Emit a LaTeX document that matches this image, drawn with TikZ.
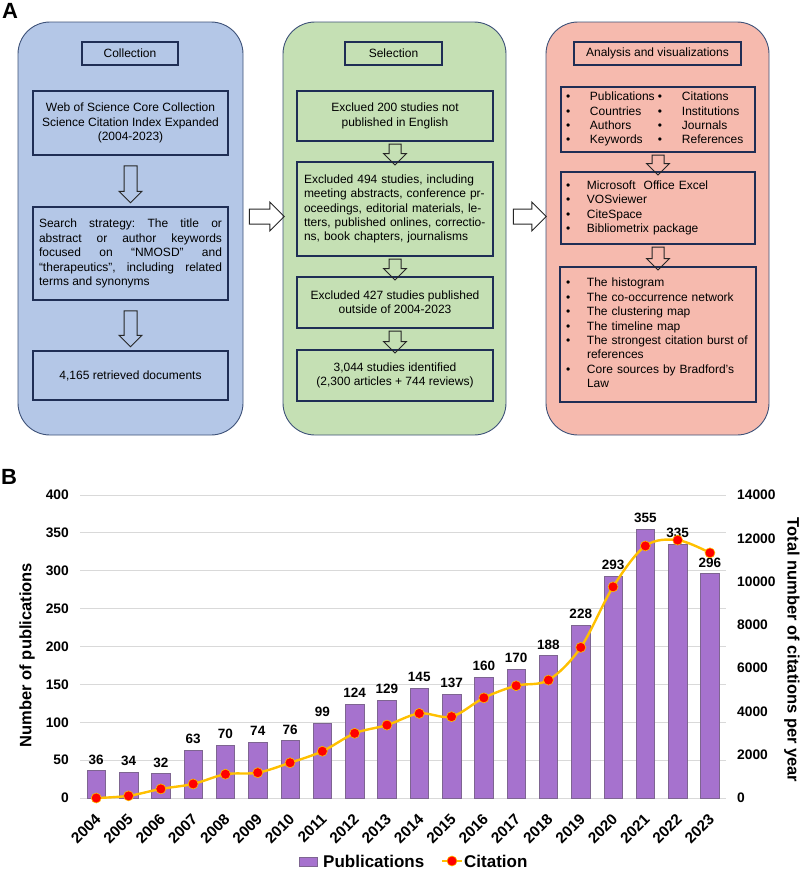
\documentclass[tikz,border=0pt]{standalone}
\usepackage{fontspec}
\setmainfont{Liberation Sans}
\usetikzlibrary{shapes.arrows,calc}
\definecolor{bluefill}{HTML}{B4C7E7}
\definecolor{greenfill}{HTML}{C5E0B4}
\definecolor{redfill}{HTML}{F6BAAE}
\definecolor{panelline}{HTML}{3D5178}
\definecolor{boxline}{HTML}{1F2E55}
\definecolor{barfill}{HTML}{A672CE}
\definecolor{barline}{HTML}{7E6591}
\definecolor{citeorange}{HTML}{FFC000}
\definecolor{gridgray}{HTML}{D9D9D9}
\frenchspacing
\newcommand{\boxfont}{\fontsize{12}{14.4}\selectfont}
\newcommand{\tickfont}{\bfseries\fontsize{13.8}{16}\selectfont}
\newcommand{\valfont}{\bfseries\fontsize{13.5}{16}\selectfont}
\newcommand{\yearfont}{\bfseries\fontsize{15.3}{17}\selectfont}
\newcommand{\titlefont}{\bfseries\fontsize{16.5}{18}\selectfont}
\newcommand{\legfont}{\bfseries\fontsize{17}{19}\selectfont}
\newcommand{\tagfont}{\bfseries\fontsize{22}{24}\selectfont}
\begin{document}
\begin{tikzpicture}[x=1pt, y=-1pt,
  panel/.style={draw=panelline, line width=0.9pt, rounded corners=32pt},
  box/.style={draw=boxline, line width=1.2pt, font=\boxfont, inner sep=0pt, minimum width=195pt},
  headbox/.style={draw=boxline, line width=1.2pt, font=\boxfont, inner sep=0pt, minimum height=23pt},
  harrow/.style={single arrow, draw=black!85, line width=1pt, inner xsep=0pt, inner ysep=6pt,
    single arrow head extend=5pt, single arrow tip angle=90},
  smallarrow/.style={harrow, inner ysep=5.5pt, single arrow head extend=5.5pt},
  gridline/.style={draw=gridgray, line width=0.8pt},
  tick/.style={font=\tickfont, inner sep=0pt},
  val/.style={font=\valfont, inner sep=0pt, anchor=south},
  year/.style={font=\yearfont, inner sep=1pt, anchor=north east, rotate=45},
  bar/.style={fill=barfill, draw=barline, line width=0.6pt},
  citeline/.style={draw=citeorange, line width=2.4pt},
  citedot/.style={fill=red, draw=citeorange, line width=0.6pt}]
\useasboundingbox (0,0) rectangle (800,870);

\node[font=\tagfont, inner sep=0pt] (tagA) at (10,11) {A};

\node[panel, fill=bluefill, minimum width=225pt, minimum height=413pt] (collect) at (130.5,228.5) {};
\node[panel, fill=greenfill, minimum width=223pt, minimum height=413pt] (select) at (394.5,228.5) {};
\node[panel, fill=redfill, minimum width=223pt, minimum height=413pt] (analyse) at (657.5,228.5) {};

\node[headbox, minimum width=96pt] (colhead) at (130,53.5) {Collection};
\node[box, minimum height=64pt, align=center] (web) at (130.5,123)
  {Web of Science Core Collection\\Science Citation Index Expanded\\(2004-2023)};
\node[box, minimum height=93pt, text width=183pt, align=justify] (search) at (130.5,253.5)
  {Search strategy: The title or\linebreak abstract or author keywords\linebreak focused on “NMOSD” and\linebreak “therapeutics”, including related\linebreak terms and synonyms};
\node[box, minimum height=49pt] (docs) at (130.5,375.5) {4,165 retrieved documents};
\node[harrow, rotate=-90, minimum height=37pt] (c1) at ($(web.south)!.5!(search.north)$) {};
\node[harrow, rotate=-90, minimum height=36pt] (c2) at ($(search.south)!.5!(docs.north)$) {};

\node[headbox, minimum width=97pt] (selhead) at (393.5,53.5) {Selection};
\node[box, minimum width=196pt, minimum height=50pt, align=center] (lang) at (395,116)
  {Exclued 200 studies not\\published in English};
\node[box, minimum width=196pt, minimum height=94pt, text width=182pt, align=left] (types) at (395,209)
  {Excluded 494 studies, including\\meeting abstracts, conference pr-\\oceedings, editorial materials, le-\\tters, published onlines, correctio-\\ns, book chapters, journalisms};
\node[box, minimum width=196pt, minimum height=51pt, align=center] (period) at (395,302.5)
  {Excluded 427 studies published\\outside of 2004-2023};
\node[box, minimum width=196pt, minimum height=51pt, align=center] (final) at (395,375.5)
  {3,044 studies identified\\(2,300 articles + 744 reviews)};
\node[smallarrow, rotate=-90, minimum height=21pt] (s1) at ($(lang.south)!.5!(types.north)$) {};
\node[smallarrow, rotate=-90, minimum height=21pt] (s2) at ($(types.south)!.5!(period.north)$) {};
\node[smallarrow, rotate=-90, minimum height=22pt] (s3) at ($(period.south)!.5!(final.north)$) {};

\node[headbox, minimum width=167pt] (anahead) at (657.5,53.5) {Analysis and visualizations};
\node[box, minimum width=194pt, minimum height=65pt, text width=184pt, align=left] (items) at (658,119.5)
  {\begin{tabular}{@{}p{24pt}@{}p{68pt}@{}p{24pt}@{}l@{}}
   • & Publications & • & Citations\\
   • & Countries & • & Institutions\\
   • & Authors & • & Journals\\
   • & Keywords & • & References
   \end{tabular}};
\node[box, minimum width=194pt, minimum height=72pt, text width=184pt, align=left] (tools) at (658,208)
  {\begin{tabular}{@{}p{21pt}@{}l@{}}
   • & Microsoft\ \ Office Excel\\
   • & VOSviewer\\
   • & CiteSpace\\
   • & Bibliometrix package
   \end{tabular}};
\node[box, minimum width=196pt, minimum height=135pt, text width=184pt, align=left] (outputs) at (658,334.5)
  {\begin{tabular}{@{}p{21pt}@{}l@{}}
   • & The histogram\\
   • & The co-occurrence network\\
   • & The clustering map\\
   • & The timeline map\\
   • & The strongest citation burst of\\
     & references\\
   • & Core sources by Bradford's\\
     & Law
   \end{tabular}};
\node[smallarrow, rotate=-90, minimum height=20pt] (r1) at ($(items.south)!.5!(tools.north)$) {};
\node[smallarrow, rotate=-90, minimum height=23pt] (r2) at ($(tools.south)!.5!(outputs.north)$) {};

\node[harrow, inner ysep=7pt, single arrow head extend=7pt, minimum height=35pt] (m1)
  at ($(collect.east)!.5!(select.west)+(0,-12)$) {};
\node[harrow, inner ysep=7pt, single arrow head extend=7pt, minimum height=33pt] (m2)
  at ($(select.east)!.5!(analyse.west)+(0,-12)$) {};

\node[font=\tagfont, inner sep=0pt] (tagB) at (9,477) {B};

\foreach \v in {0,50,...,400}{
  \draw[gridline] (80,{798-0.7575*\v}) -- (726,{798-0.7575*\v});
  \node[tick, anchor=east] (l\v) at (69,{798-0.7575*\v}) {\v};
}
\foreach \v in {0,2000,...,14000}
  \node[tick, anchor=west] (r\v) at (737,{798-0.021643*\v}) {\v};

\foreach \p [count=\i from 0] in {36,34,32,63,70,74,76,99,124,129,145,137,160,170,188,228,293,355,335,296}{
  \draw[bar] ({87+32.3*\i},798) rectangle ++(18.5,{-0.7575*\p});
  \node[val] (v\i) at ({96.25+32.3*\i},{792-0.7575*\p}) {\p};
  \pgfmathtruncatemacro\yr{2004+\i}
  \node[year] (y\i) at ({94+32.3*\i},811) {\yr};
}

\def\cites{{0,100,420,650,1100,1170,1630,2160,2990,3370,3910,3760,4630,5190,5450,6960,9760,11650,11920,11330}}
\draw[citeline] plot[smooth, tension=0.55, variable=\t, samples at={0,...,19}]
  ({96.25+32.3*\t},{798-0.021643*\cites[\t]});
\foreach \c [count=\i from 0] in {0,100,420,650,1100,1170,1630,2160,2990,3370,3910,3760,4630,5190,5450,6960,9760,11650,11920,11330}
  \draw[citedot] ({96.25+32.3*\i},{798-0.021643*\c}) circle (5pt);

\node[font=\titlefont, rotate=90, inner sep=0pt] (lefttitle) at (27,655) {Number of publications};
\node[font=\titlefont, rotate=-90, inner sep=0pt] (righttitle) at (792,650) {Total number of citations per year};

\draw[bar] (299,857) rectangle (317,866);
\node[font=\legfont, anchor=west, inner sep=0pt] (legpub) at (323,861) {Publications};
\coordinate (legA) at (442,861);
\coordinate (legB) at (462,861);
\draw[citeline, line width=2pt] (legA) -- (legB);
\draw[citedot] ($(legA)!.5!(legB)$) circle (5pt);
\node[font=\legfont, anchor=west, inner sep=0pt] (legcite) at (464,861) {Citation};
\end{tikzpicture}
\end{document}
